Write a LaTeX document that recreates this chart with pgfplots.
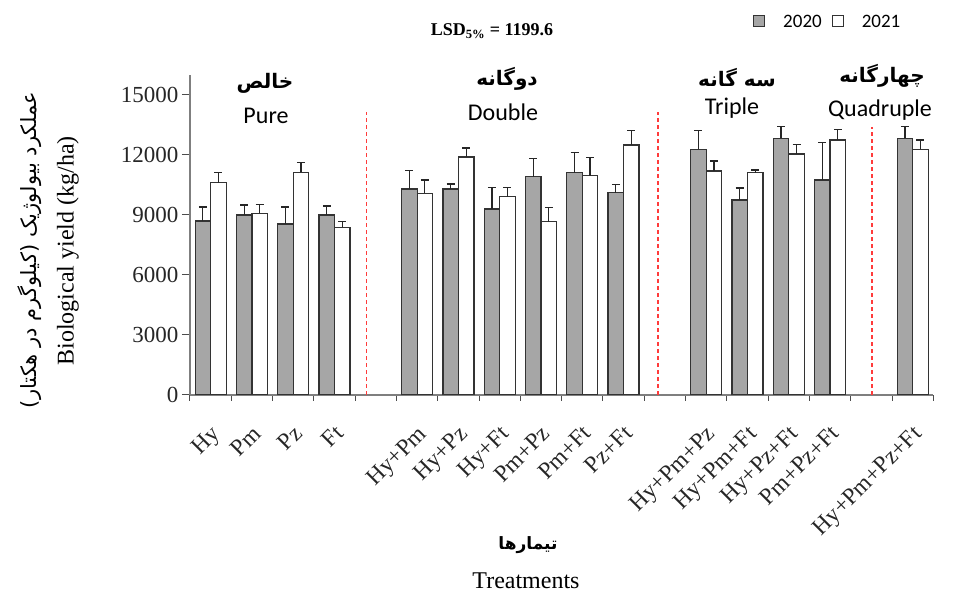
\documentclass[border=0pt]{standalone}
\usepackage{fontspec}
\usepackage{pgfplots}
\pgfplotsset{compat=1.18}
\setmainfont{Liberation Serif}
\newfontfamily\calib{Carlito}
\newfontfamily\fa[Script=Arabic]{DejaVu Sans}
\TeXXeTstate=1
\definecolor{bargray}{HTML}{A6A6A6}
\definecolor{axgray}{HTML}{7F7F7F}
\definecolor{sepred}{HTML}{FF3B3B}
\begin{document}
\begin{tikzpicture}
\useasboundingbox (-190pt,-199pt) rectangle (764pt,395pt);
\begin{axis}[
  at={(0pt,0pt)}, anchor=south west,
  scale only axis, width=743.3pt, height=320pt,
  xmin=-0.5, xmax=17.5, ymin=0, ymax=16000,
  axis lines=left,
  axis line style={-, draw=axgray, line width=1.4pt},
  ybar=0pt, bar width=15.5pt,
  scaled y ticks=false,
  ytick={0,3000,...,15000},
  xtick={0,1,2,3,5,6,7,8,9,10,12,13,14,15,17},
  xticklabels={Hy,Pm,Pz,Ft,Hy+Pm,Hy+Pz,Hy+Ft,Pm+Pz,Pm+Ft,Pz+Ft,Hy+Pm+Pz,Hy+Pm+Ft,Hy+Pz+Ft,Pm+Pz+Ft,Hy+Pm+Pz+Ft},
  minor xtick={-0.5,0.5,...,17.5},
  every major x tick/.append style={draw=none},
  tick align=outside, major tick length=8pt, minor tick length=6pt,
  tick style={draw=black!70, line width=1pt},
  /pgf/number format/assume math mode=true,
  /pgf/number format/1000 sep={},
  yticklabel style={font=\fontsize{23}{23}\selectfont, color=black!85},
  xticklabel style={font=\fontsize{23.5}{23.5}\selectfont, rotate=45, anchor=north east, color=black!85, xshift=-12pt, yshift=-11pt},
  error bars/y dir=plus, error bars/y explicit,
  error bars/error bar style={black!85, line width=1.2pt},
  error bars/error mark options={rotate=90, mark size=4pt, line width=1.2pt, black!85},
  legend style={draw=none, fill=none, at={(0.858,1.166)}, anchor=center, legend columns=2,
    font=\calib\fontsize{19}{20}\selectfont,
    /tikz/every even column/.append style={column sep=8pt},
    /tikz/every odd column/.append style={column sep=16pt}},
  legend image code/.code={\draw[#1, line width=1pt] (0pt,-5pt) rectangle (11pt,6pt);},
]
\addplot[fill=bargray, draw=black!80, line width=1.2pt] coordinates {
  (0,8700) +- (0,700)
  (1,9000) +- (0,500)
  (2,8550) +- (0,850)
  (3,9000) +- (0,450)
  (5,10300) +- (0,930)
  (6,10300) +- (0,250)
  (7,9300) +- (0,1070)
  (8,10920) +- (0,900)
  (9,11120) +- (0,1020)
  (10,10120) +- (0,400)
  (12,12280) +- (0,930)
  (13,9750) +- (0,600)
  (14,12830) +- (0,580)
  (15,10750) +- (0,1870)
  (17,12830) +- (0,580)
};
\addplot[fill=white, draw=black!80, line width=1.2pt] coordinates {
  (0,10620) +- (0,520)
  (1,9080) +- (0,430)
  (2,11130) +- (0,480)
  (3,8380) +- (0,300)
  (5,10080) +- (0,670)
  (6,11900) +- (0,450)
  (7,9920) +- (0,450)
  (8,8670) +- (0,720)
  (9,10970) +- (0,920)
  (10,12500) +- (0,720)
  (12,11200) +- (0,500)
  (13,11120) +- (0,130)
  (14,12050) +- (0,470)
  (15,12750) +- (0,530)
  (17,12280) +- (0,470)
};
\legend{2020,2021}
\draw[sepred, line width=1.6pt, dash pattern=on 4pt off 3pt] (axis cs:3.77,0) -- (axis cs:3.77,14165);
\draw[sepred, line width=1.6pt, dash pattern=on 4pt off 3pt] (axis cs:10.83,0) -- (axis cs:10.83,14165);
\draw[sepred, line width=1.6pt, dash pattern=on 4pt off 3pt] (axis cs:16.01,0) -- (axis cs:16.01,13415);
\end{axis}
% group headings
\node at (75pt,312pt) {\fa\bfseries\fontsize{20}{20}\selectfont\beginR خالص\endR};
\node at (76pt,279pt) {\calib\fontsize{24}{24}\selectfont Pure};
\node at (317pt,316pt) {\fa\bfseries\fontsize{20}{20}\selectfont\beginR دوگانه\endR};
\node at (313pt,283pt) {\calib\fontsize{24}{24}\selectfont Double};
\node at (547pt,317pt) {\fa\bfseries\fontsize{20}{20}\selectfont\beginR سه گانه\endR};
\node at (542pt,287pt) {\calib\fontsize{24}{24}\selectfont Triple};
\node at (692pt,319pt) {\fa\bfseries\fontsize{20}{20}\selectfont\beginR چهارگانه\endR};
\node at (690pt,285pt) {\calib\fontsize{24}{24}\selectfont Quadruple};
% LSD
\node at (302pt,364pt) {\bfseries\fontsize{18}{18}\selectfont LSD\textsubscript{5\%} = 1199.6};
% y label
\node[rotate=90] at (-160pt,145pt) {\fa\fontsize{21}{21}\selectfont\beginR عملکرد بیولوژیک (کیلوگرم در هکتار)\endR};
\node[rotate=90] at (-122pt,144pt) {\fontsize{24}{24}\selectfont Biological yield (kg/ha)};
% x label
\node at (338pt,-150pt) {\fa\bfseries\fontsize{17}{17}\selectfont\beginR تیمارها\endR};
\node at (336pt,-186pt) {\fontsize{24}{24}\selectfont Treatments};
\end{tikzpicture}
\end{document}
